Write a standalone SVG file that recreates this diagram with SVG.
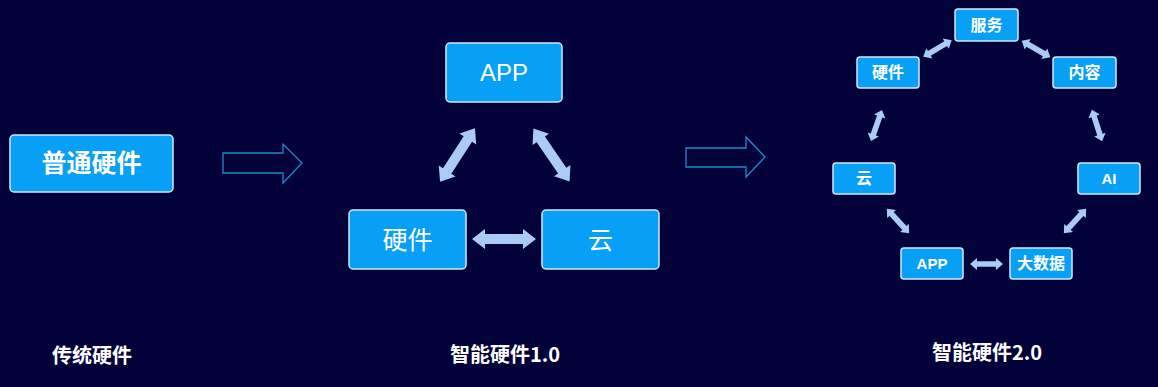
<svg xmlns="http://www.w3.org/2000/svg" width="1158" height="387" viewBox="0 0 1158 387">
<style>
.box{fill:#07a0f6;stroke:#d2e8ff;stroke-width:1.5}
.t{fill:#ffffff;font-family:"Liberation Sans","Noto Sans CJK SC",sans-serif;text-anchor:middle;dominant-baseline:central}
.b{font-weight:bold}
.lbl{fill:#ffffff;font-family:"Noto Sans CJK SC",sans-serif;font-size:20px;font-weight:bold;text-anchor:middle;dominant-baseline:central}
.dbl{fill:#a9cbf5}
.hollow{fill:none;stroke:#1d8cc6;stroke-width:1.3}
</style>
<defs>
<path id="bigArrow" d="M-32,0 L-19,-10 L-19,-5 L19,-5 L19,-10 L32,0 L19,10 L19,5 L-19,5 L-19,10 Z"/>
<path id="smallArrow" d="M-16.5,0 L-9.5,-6 L-9.5,-2.8 L9.5,-2.8 L9.5,-6 L16.5,0 L9.5,6 L9.5,2.8 L-9.5,2.8 L-9.5,6 Z"/>
</defs>
<rect width="1158" height="387" fill="#02013a"/>

<g id="connectors">
<polygon class="hollow" points="223,153 283,153 283,144 302,163 283,183 283,173 223,173"/>
<polygon class="hollow" points="686,148 746,148 746,137 765,157 746,177 746,167 686,167"/>
<use href="#bigArrow" class="dbl" transform="translate(457.5,155) rotate(-57)"/>
<use href="#bigArrow" class="dbl" transform="translate(551.5,155) rotate(55.6)"/>
<use href="#bigArrow" class="dbl" transform="translate(504,239)"/>
<use href="#smallArrow" class="dbl" transform="translate(937.5,48.5) rotate(-30.4)"/>
<use href="#smallArrow" class="dbl" transform="translate(1036,49) rotate(29.7)"/>
<use href="#smallArrow" class="dbl" transform="translate(876.5,125.5) rotate(109.5)"/>
<use href="#smallArrow" class="dbl" transform="translate(1097,125.5) rotate(72.1)"/>
<use href="#smallArrow" class="dbl" transform="translate(898,221) rotate(47.5)"/>
<use href="#smallArrow" class="dbl" transform="translate(1075,221) rotate(-47.5)"/>
<use href="#smallArrow" class="dbl" transform="translate(986.5,264)"/>
</g>

<g id="node-putong">
<rect class="box" x="10" y="135" width="163" height="57" rx="4"/>
<text class="t b" x="91.5" y="163" font-size="25">普通硬件</text>
</g>

<g id="node-app1">
<rect class="box" x="446" y="43" width="116" height="59" rx="4"/>
<text class="t" x="504" y="72.5" font-size="24">APP</text>
</g>
<g id="node-hw1">
<rect class="box" x="349" y="210" width="117" height="59" rx="4"/>
<text class="t" x="407.5" y="239.5" font-size="25">硬件</text>
</g>
<g id="node-cloud1">
<rect class="box" x="542" y="210" width="117" height="59" rx="4"/>
<text class="t" x="600.5" y="239.5" font-size="25">云</text>
</g>

<g id="node-fuwu">
<rect class="box" x="955" y="9" width="63" height="32" rx="3"/>
<text class="t b" x="986.5" y="25" font-size="16">服务</text>
</g>
<g id="node-hw2">
<rect class="box" x="857" y="57" width="62" height="31" rx="3"/>
<text class="t b" x="888" y="72.5" font-size="16">硬件</text>
</g>
<g id="node-neirong">
<rect class="box" x="1053" y="57" width="63" height="31" rx="3"/>
<text class="t b" x="1084.5" y="72.5" font-size="16">内容</text>
</g>
<g id="node-cloud2">
<rect class="box" x="833" y="163" width="62" height="31" rx="3"/>
<text class="t b" x="864" y="178.5" font-size="16">云</text>
</g>
<g id="node-ai">
<rect class="box" x="1078" y="163" width="62" height="31" rx="3"/>
<text class="t b" x="1109" y="178.5" font-size="15">AI</text>
</g>
<g id="node-app2">
<rect class="box" x="901" y="248" width="62" height="31" rx="3"/>
<text class="t b" x="932" y="263.5" font-size="15">APP</text>
</g>
<g id="node-bigdata">
<rect class="box" x="1010" y="248" width="62" height="31" rx="3"/>
<text class="t b" x="1041" y="263.5" font-size="16">大数据</text>
</g>

<g id="labels">
<text class="lbl" x="92" y="354">传统硬件</text>
<text class="lbl" x="505" y="353">智能硬件1.0</text>
<text class="lbl" x="987" y="351">智能硬件2.0</text>
</g>
</svg>
